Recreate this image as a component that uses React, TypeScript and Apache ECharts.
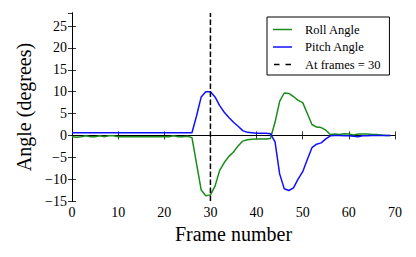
import React, { useEffect, useRef } from "react";
import * as echarts from "echarts";

const frames: number[] = Array.from({ length: 70 }, (_, i) => i);

const rollAngle: number[] = [
  -0.3, -0.4, -0.3, -0.1, -0.3, -0.3, -0.1, -0.3, -0.1, -0.1,
  -0.3, -0.3, -0.3, -0.3, -0.3, -0.3, -0.3, -0.3, -0.3, -0.3,
  -0.3, -0.3, -0.1, -0.3, -0.3, -0.2, -0.5, -6.5, -12.5, -13.8,
  -13.6, -11.6, -8.0, -6.2, -4.8, -3.8, -2.4, -1.3, -1.0, -0.9,
  -0.8, -0.8, -0.8, -0.7, 3.0, 7.8, 9.7, 9.6, 8.9, 8.0,
  7.5, 5.0, 2.5, 1.9, 1.8, 1.2, 0.2, 0.3, 0.2, 0.4,
  0.3, 0.1, 0.3, 0.3, 0.3, 0.2, 0.2, 0.1, 0.0, 0.0,
];

const pitchAngle: number[] = [
  0.6, 0.6, 0.6, 0.6, 0.6, 0.6, 0.6, 0.6, 0.6, 0.6,
  0.6, 0.6, 0.6, 0.6, 0.6, 0.6, 0.6, 0.6, 0.6, 0.6,
  0.6, 0.6, 0.6, 0.6, 0.6, 0.6, 0.6, 4.5, 8.8, 10.0,
  10.0, 8.8, 6.8, 5.3, 4.1, 3.0, 2.1, 1.1, 0.7, 0.6,
  0.5, 0.5, 0.5, 0.4, -1.5, -8.8, -12.2, -12.6, -12.0, -10.0,
  -8.3, -5.5, -2.8, -2.0, -1.7, -0.8, -0.1, 0.0, 0.0, -0.1,
  -0.1, -0.2, -0.3, -0.1, -0.1, 0.0, 0.0, 0.0, 0.0, 0.0,
];

const markerFrame = 30;
const markerSpan: number[] = [-15, 28];

const legendNames: string[] = ["Roll Angle", "Pitch Angle", "At frames = 30"];

const xTicks = { min: 0, max: 70, interval: 10 };
const yTicks = { min: -15, max: 28, interval: 5 };

const FONT = "'Liberation Serif', 'DejaVu Serif', serif";
const GREEN = "#1a8c1a";
const BLUE = "#1010ff";

const SOLID_ICON = "path://M0 0H19V1.5H0Z";
const DASH_ICON = "path://M1 0H6.5V1.5H1Z M12.5 0H18V1.5H12.5Z";

const fmt = (v: number) => (v < 0 ? "\u2212" + Math.abs(v) : String(v));

export default function App() {
  const ref = useRef<HTMLDivElement>(null);

  useEffect(() => {
    if (!ref.current) return;
    const chart = echarts.init(ref.current, undefined, { renderer: "svg" });
    const axisLine = { show: true, lineStyle: { color: "#000", width: 1 } };
    const tick = { show: true, inside: true, length: 4, lineStyle: { color: "#000", width: 0.8 } };
    chart.setOption({
      animation: false,
      backgroundColor: "#fff",
      grid: { left: 72, right: 21, top: 13, bottom: 56, containLabel: false },
      legend: {
        orient: "vertical",
        left: 267,
        top: 17,
        padding: [6, 9, 4, 6],
        itemGap: 4.5,
        itemWidth: 19,
        itemHeight: 1.5,
        borderColor: "#000",
        borderWidth: 1,
        borderRadius: 0,
        backgroundColor: "#fff",
        textStyle: { fontFamily: FONT, fontSize: 12.5, lineHeight: 12, color: "#000", padding: [0, 0, 0, 8] },
        data: [
          { name: legendNames[0], icon: SOLID_ICON },
          { name: legendNames[1], icon: SOLID_ICON },
          { name: legendNames[2], icon: DASH_ICON },
        ],
      },
      xAxis: [
        {
          type: "value",
          min: xTicks.min,
          max: xTicks.max,
          interval: xTicks.interval,
          name: "Frame number",
          nameLocation: "middle",
          nameGap: 22,
          nameTextStyle: { fontFamily: FONT, fontSize: 20, color: "#000" },
          axisLine,
          axisTick: tick,
          splitLine: { show: false },
          axisLabel: { fontFamily: FONT, fontSize: 14, color: "#000", margin: 4, formatter: fmt },
        },
        {
          type: "value",
          position: "top",
          min: xTicks.min,
          max: xTicks.max,
          interval: xTicks.interval,
          axisLine,
          axisTick: tick,
          splitLine: { show: false },
          axisLabel: { show: false },
        },
      ],
      yAxis: [
        {
          type: "value",
          min: yTicks.min,
          max: yTicks.max,
          interval: yTicks.interval,
          name: "Angle (degrees)",
          nameLocation: "middle",
          nameGap: 37,
          nameTextStyle: { fontFamily: FONT, fontSize: 20, color: "#000" },
          axisLine,
          axisTick: tick,
          splitLine: { show: false },
          axisLabel: { fontFamily: FONT, fontSize: 14, color: "#000", margin: 5, formatter: fmt, showMaxLabel: false },
        },
        {
          type: "value",
          position: "right",
          min: yTicks.min,
          max: yTicks.max,
          interval: yTicks.interval,
          axisLine,
          axisTick: tick,
          splitLine: { show: false },
          axisLabel: { show: false },
        },
      ],
      series: [
        {
          name: legendNames[0],
          type: "line",
          symbol: "none",
          color: GREEN,
          lineStyle: { color: GREEN, width: 1.5 },
          data: frames.map((f, i) => [f, rollAngle[i]]),
        },
        {
          name: legendNames[1],
          type: "line",
          symbol: "none",
          color: BLUE,
          lineStyle: { color: BLUE, width: 1.5 },
          data: frames.map((f, i) => [f, pitchAngle[i]]),
        },
        {
          name: legendNames[2],
          type: "line",
          symbol: "none",
          color: "#000",
          lineStyle: { color: "#000", width: 1.5, type: [5.5, 2.5] },
          data: markerSpan.map((v) => [markerFrame, v]),
        },
      ],
    });
    return () => chart.dispose();
  }, []);

  return <div ref={ref} style={{ width: 416, height: 257, position: "absolute", left: 0, top: 0 }} />;
}
